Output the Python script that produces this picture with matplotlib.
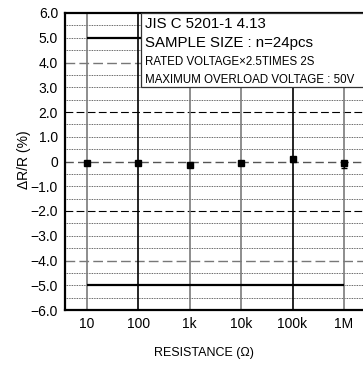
import matplotlib
matplotlib.use("Agg")
import matplotlib.pyplot as plt
from matplotlib.patches import Rectangle
import numpy as np

plt.rcParams['font.family'] = ['Liberation Sans', 'DejaVu Sans']

resistance = [10, 100, 1e3, 1e4, 1e5, 1e6]
tick_labels = ["10", "100", "1k", "10k", "100k", "1M"]
avg_change = [-0.05, -0.05, -0.13, -0.07, 0.10, -0.05]
max_change = [0.0, 0.0, -0.05, 0.0, 0.15, 0.02]
min_change = [-0.10, -0.10, -0.20, -0.12, 0.02, -0.25]
limit_upper = 5.0
limit_lower = -5.0
vline_colors = ["#7a7a7a", "#000000", "#7a7a7a", "#7a7a7a", "#000000", "#7a7a7a"]
legend_lines = ["JIS C 5201-1 4.13", "SAMPLE SIZE : n=24pcs",
                "RATED VOLTAGE×2.5TIMES 2S", "MAXIMUM OVERLOAD VOLTAGE : 50V"]

W, H = 363, 365
fig = plt.figure(figsize=(W/100, H/100), dpi=100)
ax = fig.add_axes([65/W, 1-310/H, (366-65)/W, (310-13)/H])
ax.set_xscale('log')
ax.set_xlim(10**0.572, 10**6.43)
ax.set_ylim(-6, 6)

# horizontal grid
for y in np.arange(-5.5, 6.0, 0.5):
    yr = round(y, 1)
    if yr == 0.0:
        ax.axhline(yr, color="#555555", lw=1.0, ls=(0, (6, 3)), zorder=1)
    elif abs(yr) == 2.0:
        ax.axhline(yr, color="#000000", lw=0.8, ls=(0, (7, 3)), zorder=1)
    elif abs(yr) == 4.0:
        ax.axhline(yr, color="#777777", lw=1.0, ls=(0, (7, 3)), zorder=1)
    else:
        ax.axhline(yr, color="#333333", lw=0.6, ls=(0, (1, 1)), zorder=1)

for x, c in zip(resistance, vline_colors):
    ax.axvline(x, color=c, lw=1.2, zorder=2)

ax.hlines([limit_upper, limit_lower], resistance[0], resistance[-1],
          color="black", lw=1.6, zorder=3)

yerr = [np.array(avg_change) - np.array(min_change),
        np.array(max_change) - np.array(avg_change)]
ax.errorbar(resistance, avg_change, yerr=yerr, fmt='s', color='black',
            ms=5, capsize=2, elinewidth=1, zorder=5)

ax.set_xticks(resistance)
ax.set_xticklabels(tick_labels)
ax.minorticks_off()
yt = np.arange(-6, 7, 1)
ax.set_yticks(yt)
ax.set_yticklabels([("0" if v == 0 else ("%.1f" % v).replace("-", "\u2212")) for v in yt])
ax.tick_params(axis='both', length=0, labelsize=10, pad=5)

for s in ['left', 'bottom', 'top']:
    ax.spines[s].set_linewidth(1.6)
ax.spines['right'].set_visible(False)

fig.text(24/W, 1-160/H, "\u0394R/R (%)", rotation=90, ha='center', va='center', fontsize=10)
fig.text(204/W, 1-353/H, "RESISTANCE (\u03a9)", ha='center', va='center', fontsize=9)

# legend box
rect = Rectangle((141/W, 1-87/H), (370-141)/W, (87-13)/H, transform=fig.transFigure,
                 facecolor='white', edgecolor='#333333', lw=0.9, zorder=10)
fig.patches.append(rect)
ys = [28, 47, 65, 83]
sizes = [10.8, 10.8, 8.3, 8.3]
for t, y, s in zip(legend_lines, ys, sizes):
    fig.text(145/W, 1-y/H, t, ha='left', va='baseline', fontsize=s, zorder=11)

fig.savefig("out.png", dpi=100)
